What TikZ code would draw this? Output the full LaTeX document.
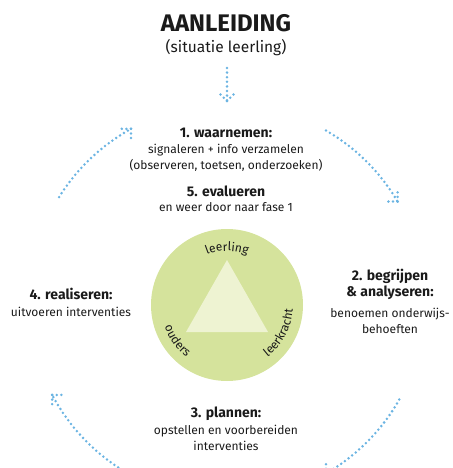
\documentclass[tikz,border=0pt]{standalone}
\usepackage{fontspec}
\setmainfont{Fira Sans}
\usetikzlibrary{decorations.text}
\definecolor{arrowblue}{HTML}{6BB4E2}
\definecolor{circlegreen}{HTML}{D5E39C}
\definecolor{trigreen}{HTML}{EEF3D2}
\definecolor{ink}{HTML}{1A1A1A}
\newcommand\arcfont{\fontsize{12}{14}\selectfont}
\tikzset{
  dotline/.style={draw=arrowblue, line width=2.8pt, line cap=round, dash pattern=on 0pt off 4.6pt},
  title/.style={font=\bfseries\fontsize{24}{28}\selectfont, text=ink, anchor=base, inner sep=0},
  sub/.style={font=\fontsize{15.5}{18}\selectfont, text=ink, anchor=base, inner sep=0},
  head/.style={font=\bfseries\fontsize{14}{16}\selectfont, text=ink, anchor=base, inner sep=0},
  body/.style={font=\fontsize{12}{14}\selectfont, text=ink, anchor=base, inner sep=0},
}
\begin{document}
\begin{tikzpicture}[x=1pt,y=1pt]
\useasboundingbox (0,0) rectangle (452,-468);
% title
\node[title] (t) at (226,-32) {AANLEIDING};
\node[sub] (ts) at (226,-53) {(situatie leerling)};
% down arrow
\coordinate (ds) at (227,-68);
\coordinate (de) at (227,-101);
\draw[dotline] (ds) -- (de);
\draw[dotline] (de) -- ++(135:9.4);
\draw[dotline] (de) -- ++(45:9.4);
% step texts
\node[head] (h1) at (226,-137) {1. waarnemen:};
\node[body] (b1a) at (226,-153) {signaleren + info verzamelen};
\node[body] (b1b) at (226,-169) {(observeren, toetsen, onderzoeken)};
\node[head] (h5) at (226,-196) {5. evalueren};
\node[body] (b5) at (226,-211) {en weer door naar fase 1};
\node[head] (h2a) at (390,-280) {2. begrijpen};
\node[head] (h2b) at (390,-296) {\& analyseren:};
\node[body] (b2a) at (390,-317) {benoemen onderwijs-};
\node[body] (b2b) at (390,-333) {behoeften};
\node[head] (h4) at (71,-299) {4. realiseren:};
\node[body] (b4) at (71,-316) {uitvoeren interventies};
\node[head] (h3) at (226,-417) {3. plannen:};
\node[body] (b3a) at (226,-434) {opstellen en voorbereiden};
\node[body] (b3b) at (226,-450) {interventies};
% circle and triangle
\node[circle, fill=circlegreen, minimum size=152pt, inner sep=0] (circ) at (227,-305) {};
\fill[trigreen] (227,-260) -- (186,-332) -- (268,-332) -- cycle;
\path[decorate, decoration={text along path, text={|\arcfont\color{ink}|leerling}, text align=center}]
  (circ.center) ++(125:54) arc[start angle=125, end angle=55, radius=54];
\path[decorate, decoration={text along path, text={|\arcfont\color{ink}|ouders}, text align=center}]
  (circ.center) ++(183:66) arc[start angle=183, end angle=248, radius=66];
\path[decorate, decoration={text along path, text={|\arcfont\color{ink}|leerkracht}, text align=center}]
  (circ.center) ++(292:66) arc[start angle=292, end angle=372, radius=66];
% cycle arrows
\coordinate (cc) at (227,-302);
\draw[dotline] (cc) ++(148:198) coordinate (a1s) arc[start angle=148, end angle=119, radius=198] coordinate (a1e);
\draw[dotline] (a1e) -- ++(180:9.4);
\draw[dotline] (a1e) -- ++(270:9.4);
\draw[dotline] (cc) ++(60:198) coordinate (a2s) arc[start angle=60, end angle=30.5, radius=198] coordinate (a2e);
\draw[dotline] (a2e) -- ++(180:9.4);
\draw[dotline] (a2e) -- ++(90:9.4);
\draw[dotline] (cc) ++(-29.5:198) coordinate (a3s) arc[start angle=-29.5, end angle=-60, radius=198] coordinate (a3e);
\draw[dotline] (a3e) -- ++(0:9.4);
\draw[dotline] (a3e) -- ++(90:9.4);
\draw[dotline] (cc) ++(238:198) coordinate (a4s) arc[start angle=238, end angle=208, radius=198] coordinate (a4e);
\draw[dotline] (a4e) -- ++(0:9.4);
\draw[dotline] (a4e) -- ++(270:9.4);
\end{tikzpicture}
\end{document}
